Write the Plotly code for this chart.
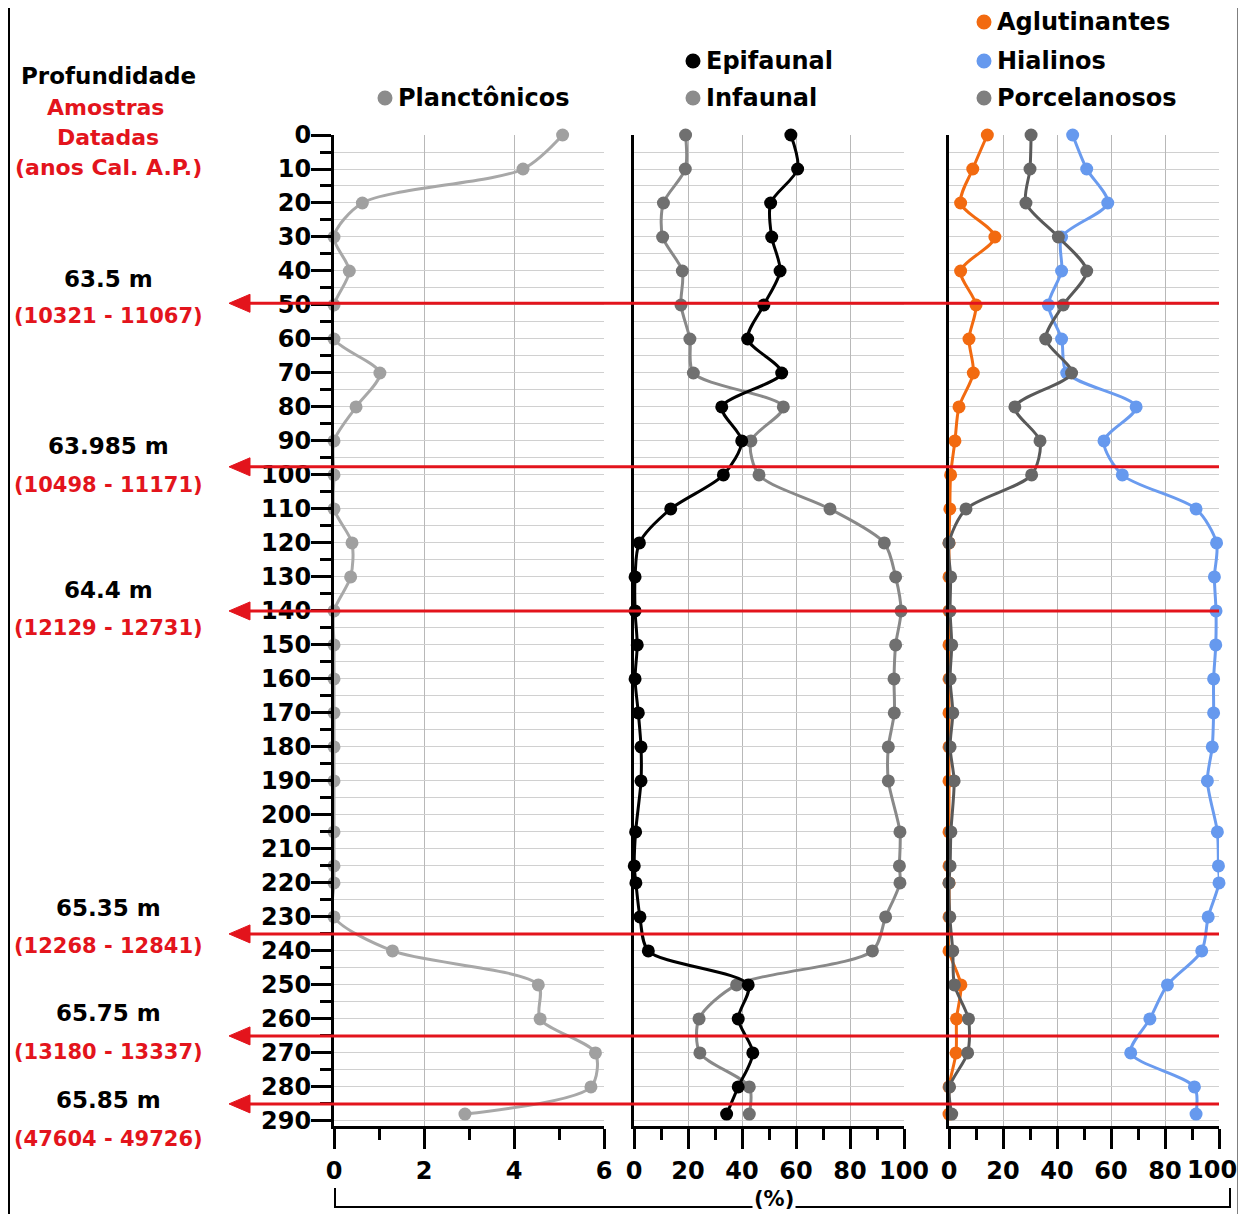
import plotly.graph_objects as go

# ---------------- data ----------------
depth = [0, 10, 20, 30, 40, 50, 60, 70, 80, 90, 100, 110, 120, 130, 140, 150, 160, 170, 180, 190,
         205, 215, 220, 230, 240, 250, 260, 270, 280, 288]

planctonicos = [5.08, 4.2, 0.63, 0, 0.34, 0, 0, 1.02, 0.49, 0, 0, 0, 0.4, 0.37, 0, 0, 0, 0, 0, 0,
                0, 0, 0, 0, 1.3, 4.54, 4.58, 5.81, 5.71, 2.91]

epifaunal = [58.1, 60.6, 50.6, 51, 54.1, 48.1, 42.1, 54.7, 32.5, 39.9, 33.1, 13.6, 2, 0.4, 0.4, 1.2, 0.4, 1.6, 2.6, 2.6,
             0.6, 0.1, 0.7, 2.2, 5.3, 42.3, 38.6, 44, 38.6, 34.3]

infaunal = [19.1, 19, 10.9, 10.6, 17.9, 17.4, 20.7, 22, 55.3, 43.3, 46.3, 72.6, 92.7, 96.9, 98.9, 96.9, 96.3, 96.4, 94.2, 94.2,
            98.5, 98.3, 98.5, 93.2, 88.3, 38, 24.1, 24.4, 42.7, 42.7]

aglutinantes = [14.2, 8.8, 4.3, 17, 4.3, 10, 7.4, 9, 3.7, 2.2, 0.6, 0.3, 0, 0, 0, 0, 0, 0, 0, 0,
                0, 0, 0, 0, 0, 4.4, 2.8, 2.6, 0, 0]

hialinos = [45.8, 51, 58.8, 41.7, 41.7, 36.8, 41.7, 43.6, 69.3, 57.4, 64.2, 91.5, 99.1, 98.3, 98.9, 98.8, 98, 98, 97.5, 95.7,
            99.4, 99.8, 100, 96, 93.6, 80.9, 74.4, 67.3, 90.9, 91.5]

porcelanosos = [30.4, 30, 28.5, 40.5, 51, 42.3, 35.8, 45.4, 24.4, 33.7, 30.6, 6.3, 0, 0.6, 0.4, 1, 0.4, 1.4, 0.4, 1.9,
                0.7, 0.4, 0, 0.3, 1.4, 2, 7.2, 6.9, 0.2, 1]

pct_ticks = [0, 20, 40, 60, 80, 100]
pct_labels = ["0", "20", "40", "60", "80", "100"]

dated_depths = [49.5, 97.6, 140, 235, 265, 285]
sample_labels = ["63.5 m", "63.985 m", "64.4 m", "65.35 m", "65.75 m", "65.85 m"]
age_labels = ["(10321 - 11067)", "(10498 - 11171)", "(12129 - 12731)",
              "(12268 - 12841)", "(13180 - 13337)", "(47604 - 49726)"]

# ---------------- layout helpers ----------------
# page body has an 8px margin; figure sized so the page stays 1246x1222
OFF = 8
W, H = 1246 - OFF, 1222 - 2 * OFF
FONT = "DejaVu Sans"
RED = "#e3141c"


def px(x):
    return (x - OFF) / W


def py(y):
    return 1 - (y - OFF) / H


sample_label_y = [279, 446, 590, 908, 1013, 1100]
age_label_y = [316, 485, 628, 946, 1052, 1139]

fig = go.Figure()

spl = dict(shape="spline", smoothing=0.8)

fig.add_trace(go.Scatter(x=planctonicos, y=depth, mode="lines+markers", name="Planctônicos",
                         line=dict(color="#a8a8a8", width=3, **spl),
                         marker=dict(color="#a0a0a0", size=13), cliponaxis=False,
                         xaxis="x", yaxis="y"))

fig.add_trace(go.Scatter(x=infaunal, y=depth, mode="lines+markers", name="Infaunal",
                         line=dict(color="#898989", width=3, **spl),
                         marker=dict(color="#707070", size=13), cliponaxis=False,
                         xaxis="x2", yaxis="y2"))
fig.add_trace(go.Scatter(x=epifaunal, y=depth, mode="lines+markers", name="Epifaunal",
                         line=dict(color="#000000", width=3, **spl),
                         marker=dict(color="#000000", size=13), cliponaxis=False,
                         xaxis="x2", yaxis="y2"))

fig.add_trace(go.Scatter(x=hialinos, y=depth, mode="lines+markers", name="Hialinos",
                         line=dict(color="#6a9bef", width=3, **spl),
                         marker=dict(color="#6699ee", size=13), cliponaxis=False,
                         xaxis="x3", yaxis="y3"))
fig.add_trace(go.Scatter(x=aglutinantes, y=depth, mode="lines+markers", name="Aglutinantes",
                         line=dict(color="#f26a10", width=3, **spl),
                         marker=dict(color="#f26a10", size=13), cliponaxis=False,
                         xaxis="x3", yaxis="y3"))
fig.add_trace(go.Scatter(x=porcelanosos, y=depth, mode="lines+markers", name="Porcelanosos",
                         line=dict(color="#595959", width=3, **spl),
                         marker=dict(color="#676767", size=13), cliponaxis=False,
                         xaxis="x3", yaxis="y3"))

tickfont = dict(family=FONT, size=24, color="black", weight="bold")
ydom = [py(1126), py(135)]


def xax(dom, rng, dt, mdt, anchor):
    return dict(domain=dom, range=rng, anchor=anchor, automargin=False,
                tickmode="linear", tick0=0, dtick=dt,
                showgrid=True, gridcolor="#b8b8b8", gridwidth=1, zeroline=False,
                showline=True, linecolor="black", linewidth=3,
                ticks="outside", ticklen=20, tickwidth=3, tickcolor="black",
                minor=dict(dtick=mdt, ticks="outside", ticklen=11, tickwidth=3, tickcolor="black", showgrid=False),
                tickfont=tickfont, ticklabelstandoff=1, ticklabeloverflow="allow", fixedrange=True)


def yax(anchor, labels):
    d = dict(domain=ydom, range=[291.5, 0], anchor=anchor, automargin=False,
             tickmode="linear", tick0=0, dtick=10,
             showgrid=True, gridcolor="#d0d0d0", gridwidth=1, zeroline=False,
             showline=True, linecolor="black", linewidth=3,
             showticklabels=labels, tickfont=tickfont, fixedrange=True,
             minor=dict(dtick=5, showgrid=True, gridcolor="#d0d0d0", gridwidth=1,
                        ticks="outside" if labels else "", ticklen=11, tickwidth=3, tickcolor="black"))
    if labels:
        d.update(ticks="outside", ticklen=20, tickwidth=3, tickcolor="black", ticklabelstandoff=-5)
    else:
        d.update(ticks="")
    return d


x3 = xax([px(949), px(1219)], [0, 100], 20, 10, "y3")
# last label of the right panel is drawn as an annotation so it stays inside the frame
x3.update(tickmode="array", tickvals=pct_ticks, ticktext=pct_labels[:-1] + [""])

fig.update_layout(
    template="none",
    width=W, height=H, margin=dict(l=0, r=0, t=0, b=0, pad=0), autosize=False,
    paper_bgcolor="white", plot_bgcolor="white", showlegend=False,
    font=dict(family=FONT, color="black"),
    xaxis=xax([px(334), px(604)], [0, 6], 2, 1, "y"),
    xaxis2=xax([px(634), px(904)], [0, 100], 20, 10, "y2"),
    xaxis3=x3,
    yaxis=yax("x", True),
    yaxis2=yax("x2", False),
    yaxis3=yax("x3", False),
)

shapes = []
annotations = []

annotations.append(dict(text=pct_labels[-1], x=pct_ticks[-1], xref="x3", y=py(1170), yref="paper",
                        xanchor="center", yanchor="middle", xshift=-7, showarrow=False, font=tickfont))

# red dated-sample arrows
for d in dated_depths:
    shapes.append(dict(type="line", xref="paper", yref="y", x0=px(246), x1=px(1219), y0=d, y1=d,
                       line=dict(color=RED, width=3), layer="above"))
    hh = 9 / 3.4
    shapes.append(dict(type="path", xref="paper", yref="y",
                       path=f"M {px(229)} {d} L {px(250)} {d - hh} L {px(250)} {d + hh} Z",
                       fillcolor=RED, line=dict(color=RED, width=1), layer="above"))

# left header text
header = [("Profundidade", "black", 108, 76, 23), ("Amostras", RED, 105, 107, 22),
          ("Datadas", RED, 108, 138, 22), ("(anos Cal. A.P.)", RED, 108, 167, 22)]
for t, c, x, y, s in header:
    annotations.append(dict(text=f"<b>{t}</b>", x=px(x), y=py(y), xref="paper", yref="paper",
                            xanchor="center", yanchor="middle", showarrow=False,
                            font=dict(family=FONT, size=s, color=c)))

for lab, age, y1, y2 in zip(sample_labels, age_labels, sample_label_y, age_label_y):
    annotations.append(dict(text=f"<b>{lab}</b>", x=px(108), y=py(y1), xref="paper", yref="paper",
                            xanchor="center", yanchor="middle", showarrow=False,
                            font=dict(family=FONT, size=23, color="black")))
    annotations.append(dict(text=f"<b>{age}</b>", x=px(108), y=py(y2), xref="paper", yref="paper",
                            xanchor="center", yanchor="middle", showarrow=False,
                            font=dict(family=FONT, size=21, color=RED)))

# legend entries
legend_items = [("Planctônicos", "#8c8c8c", 385, 98), ("Epifaunal", "#000000", 693, 61),
                ("Infaunal", "#8c8c8c", 693, 98), ("Aglutinantes", "#f26a10", 984, 22),
                ("Hialinos", "#6699ee", 984, 61), ("Porcelanosos", "#7f7f7f", 984, 98)]
for name, col, cx, cy in legend_items:
    r = 7.5
    shapes.append(dict(type="circle", xref="paper", yref="paper",
                       x0=px(cx - r), x1=px(cx + r), y0=py(cy + r), y1=py(cy - r),
                       fillcolor=col, line=dict(color=col, width=0)))
    annotations.append(dict(text=f"<b>{name}</b>", x=px(cx + 11), y=py(cy), xref="paper", yref="paper",
                            xanchor="left", yanchor="middle", showarrow=False,
                            font=dict(family=FONT, size=24, color="black")))

# bottom bracket with (%)
shapes.append(dict(type="path", xref="paper", yref="paper",
                   path=f"M {px(335)} {py(1188)} L {px(335)} {py(1207)} L {px(1230)} {py(1207)} L {px(1230)} {py(1188)}",
                   line=dict(color="black", width=2)))
annotations.append(dict(text="<b>(%)</b>", x=px(774), y=py(1199), xref="paper", yref="paper",
                        xanchor="center", yanchor="middle", showarrow=False, bgcolor="white",
                        borderpad=1, font=dict(family=FONT, size=21, color="black")))

# outer frame
shapes.append(dict(type="rect", xref="paper", yref="paper", x0=px(9), x1=px(1238.5), y0=py(1240), y1=py(4),
                   line=dict(color="black", width=2)))

fig.update_layout(shapes=shapes, annotations=annotations)
fig.write_html("out.html")
